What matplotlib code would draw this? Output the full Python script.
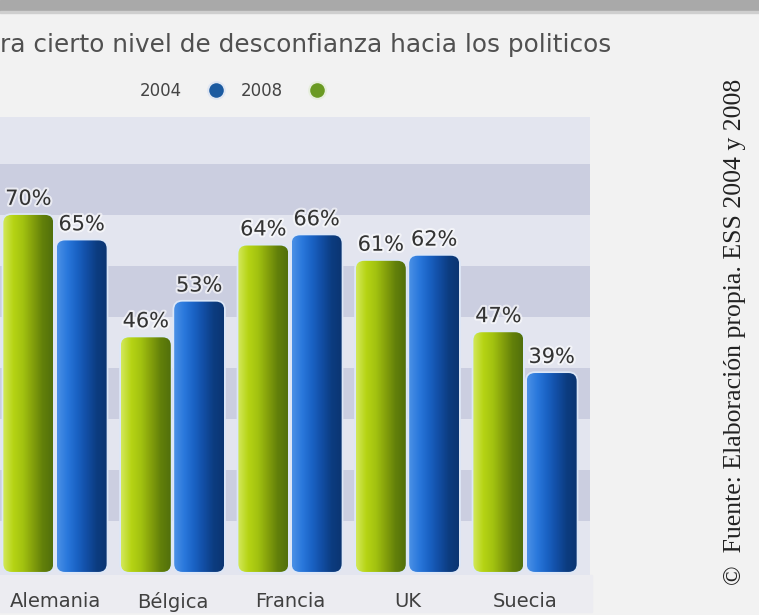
import numpy as np
import matplotlib
matplotlib.use('Agg')
import matplotlib.pyplot as plt
from matplotlib.patches import FancyBboxPatch, Rectangle
from matplotlib.colors import LinearSegmentedColormap
import matplotlib.patheffects as pe

# datos
paises = ['Alemania', 'Bélgica', 'Francia', 'UK', 'Suecia']
v2008 = [70, 46, 64, 61, 47]
v2004 = [65, 53, 66, 62, 39]
titulo = 'ra cierto nivel de desconfianza hacia los politicos'
fuente = '©  Fuente: Elaboración propia. ESS 2004 y 2008'

W, H = 759, 615
fig = plt.figure(figsize=(W / 100, H / 100), dpi=100)
fig.patch.set_facecolor('#f2f2f2')

# franja gris superior
fig.patches.append(Rectangle((0, 1 - 11 / H), 1, 11 / H, transform=fig.transFigure,
                             color='#a9a9a9', zorder=0))
fig.patches.append(Rectangle((0, 1 - 13 / H), 1, 2 / H, transform=fig.transFigure,
                             color='#cfcfcf', zorder=0))
# zona de etiquetas
fig.patches.append(Rectangle((0, 3 / H), 592 / W, 37 / H, transform=fig.transFigure,
                             color='#ececf1', zorder=0))


def px(x0, y0, x1, y1):
    return [x0 / W, 1 - y1 / H, (x1 - x0) / W, (y1 - y0) / H]


ax = fig.add_axes(px(0, 117, 590, 575))
ax.set_zorder(2)
ax.set_facecolor('#e3e5ef')
for sp in ax.spines.values():
    sp.set_visible(False)

# bandas horizontales
for i, y0 in enumerate(range(0, 90, 10)):
    ax.axhspan(y0, y0 + 10, color='#e3e5ef' if i % 2 == 0 else '#cbcee0', zorder=0, lw=0)

x = np.arange(len(paises))
w = 0.425
off = 0.227
b08 = ax.bar(x - off, v2008, w, color='none', zorder=1)
b04 = ax.bar(x + off, v2004, w, color='none', zorder=1)

cm_green = LinearSegmentedColormap.from_list('g', ['#d2e85a', '#b6d414', '#a2c210', '#84a00c', '#62800a', '#52700c'])
cm_blue = LinearSegmentedColormap.from_list('b', ['#4a90e6', '#2a78dc', '#1a62c4', '#124ea4', '#0c3c80', '#0b3572'])
grad = np.linspace(0, 1, 64).reshape(1, -1)

for bars, cm in ((b08, cm_green), (b04, cm_blue)):
    for r in bars:
        x0, bw, h = r.get_x(), r.get_width(), r.get_height()
        p = FancyBboxPatch((x0, 0), bw, h, boxstyle='round,pad=0,rounding_size=0.07',
                           mutation_aspect=23, facecolor='none', edgecolor='#dde7f7',
                           lw=2.5, zorder=2)
        ax.add_patch(p)
        im = ax.imshow(grad, cmap=cm, extent=(x0, x0 + bw, 0, h), aspect='auto',
                       zorder=3, interpolation='bilinear')
        im.set_clip_path(p)
        ax.text(x0 + bw / 2, h + 1.2, f'{h:.0f}%', ha='center', va='bottom',
                fontsize=15, color='#333333', zorder=4,
                path_effects=[pe.withStroke(linewidth=3, foreground='white', alpha=0.6)])

ax.set_xlim(-0.468, 4.553)
ax.set_ylim(-0.6, 89.2)
ax.set_yticks([])
ax.set_xticks(x, paises)
ax.tick_params(axis='x', length=0, pad=12, labelsize=14, labelcolor='#404040')

fig.text(0, 1 - 45 / H, titulo, ha='left', va='center', fontsize=17.8, color='#505050')

# leyenda
fig.text(161 / W, 1 - 91 / H, '2004', ha='center', va='center', fontsize=12, color='#444444')
fig.text(262 / W, 1 - 91 / H, '2008', ha='center', va='center', fontsize=12, color='#444444')
fig.add_artist(plt.Line2D([216 / W], [1 - 90 / H], marker='o', ms=12, color='#1b5aa0',
                          mec='#dfe6f2', mew=1.5, transform=fig.transFigure))
fig.add_artist(plt.Line2D([317 / W], [1 - 90 / H], marker='o', ms=12, color='#6a9a22',
                          mec='#e6eedc', mew=1.5, transform=fig.transFigure))

fig.text(735 / W, 1 - 332 / H, fuente, rotation=90, ha='center', va='center',
         fontsize=18.5, family='Liberation Serif', color='#222222')

fig.savefig('out.png', dpi=100, facecolor=fig.get_facecolor())
